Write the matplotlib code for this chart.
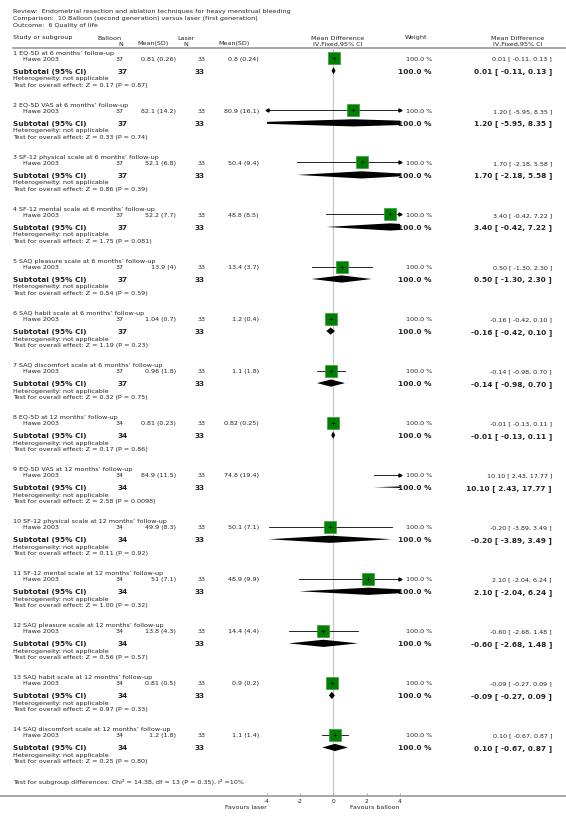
"""RevMan-style forest plot: balloon vs laser, quality of life outcomes."""
import matplotlib
matplotlib.use("Agg")
import matplotlib.pyplot as plt

W, H, DPI = 566, 820, 100
INK, GRID, GREEN = "#222222", "#9a9a9a", "#008000"

TITLE = ["Review:  Endometrial resection and ablation techniques for heavy menstrual bleeding",
         "Comparison:  10 Balloon (second generation) versus laser (first generation)",
         "Outcome:  6 Quality of life"]

OUTCOMES = ["EQ-5D at 6 months\u2019 follow-up",
            "EQ-5D VAS at 6 months\u2019 follow-up",
            "SF-12 physical scale at 6 months\u2019 follow-up",
            "SF-12 mental scale at 6 months\u2019 follow-up",
            "SAQ pleasure scale at 6 months\u2019 follow-up",
            "SAQ habit scale at 6 months\u2019 follow-up",
            "SAQ discomfort scale at 6 months\u2019 follow-up",
            "EQ-5D at 12 months\u2019 follow-up",
            "EQ-5D VAS at 12 months\u2019 follow-up",
            "SF-12 physical scale at 12 months\u2019 follow-up",
            "SF-12 mental scale at 12 months\u2019 follow-up",
            "SAQ pleasure scale at 12 months\u2019 follow-up",
            "SAQ habit scale at 12 months\u2019 follow-up",
            "SAQ discomfort scale at 12 months\u2019 follow-up"]
STUDY = "Hawe 2003"

BAL_N = [37, 37, 37, 37, 37, 37, 37, 34, 34, 34, 34, 34, 34, 34]
BAL_MEAN = [0.81, 82.1, 52.1, 52.2, 13.9, 1.04, 0.96, 0.81, 84.9, 49.9, 51, 13.8, 0.81, 1.2]
BAL_SD = [0.26, 14.2, 6.8, 7.7, 4, 0.7, 1.8, 0.23, 11.5, 8.3, 7.1, 4.3, 0.5, 1.8]
LAS_N = [33, 33, 33, 33, 33, 33, 33, 33, 33, 33, 33, 33, 33, 33]
LAS_MEAN = [0.8, 80.9, 50.4, 48.8, 13.4, 1.2, 1.1, 0.82, 74.8, 50.1, 48.9, 14.4, 0.9, 1.1]
LAS_SD = [0.24, 16.1, 9.4, 8.5, 3.7, 0.4, 1.8, 0.25, 19.4, 7.1, 9.9, 4.4, 0.2, 1.4]

MD = [0.01, 1.20, 1.70, 3.40, 0.50, -0.16, -0.14, -0.01, 10.10, -0.20, 2.10, -0.60, -0.09, 0.10]
CI_LO = [-0.11, -5.95, -2.18, -0.42, -1.30, -0.42, -0.98, -0.13, 2.43, -3.89, -2.04, -2.68, -0.27, -0.67]
CI_HI = [0.13, 8.35, 5.58, 7.22, 2.30, 0.10, 0.70, 0.11, 17.77, 3.49, 6.24, 1.48, 0.09, 0.87]
Z = [0.17, 0.33, 0.86, 1.75, 0.54, 1.19, 0.32, 0.17, 2.58, 0.11, 1.00, 0.56, 0.97, 0.25]
P = ["0.87", "0.74", "0.39", "0.081", "0.59", "0.23", "0.75", "0.86", "0.0098", "0.92",
     "0.32", "0.57", "0.33", "0.80"]
WEIGHT = [100.0] * 14

XTICKS = [-4, -2, 0, 2, 4]
SUBGROUP_TEST = "Test for subgroup differences: Chi\u00b2 = 14.38, df = 13 (P = 0.35), I\u00b2 =10%"

# layout (pixels, y downward)
TOP, BOTTOM = 49, 797
X_LO, X_HI = -4, 4
PX_LO, PX_HI = 266.7, 400.0
ROW0, STEP = 53, 52.05
FS, FSB = 4.6, 5.3


def main():
    plt.rcParams["font.family"] = "DejaVu Sans"
    fig = plt.figure(figsize=(W / DPI, H / DPI), dpi=DPI)
    bg = fig.add_axes([0, 0, 1, 1])
    bg.set_xlim(0, W)
    bg.set_ylim(H, 0)
    bg.axis("off")

    def t(x, y, s, ha="left", bold=False, size=None):
        bg.text(x, y, s, ha=ha, va="center", color=INK,
                fontsize=size or (FSB if bold else FS),
                fontweight="bold" if bold else "normal")

    for i, line in enumerate(TITLE):
        t(13, 11 + 7.5 * i, line)

    # column headers
    t(13, 38, "Study or subgroup")
    t(109, 38, "Balloon", ha="center")
    t(121, 44, "N", ha="center")
    t(153, 44, "Mean(SD)", ha="center")
    t(186, 38, "Laser", ha="center")
    t(186, 44, "N", ha="center")
    t(234, 44, "Mean(SD)", ha="center")
    t(338, 38, "Mean Difference", ha="center")
    t(338, 44, "IV,Fixed,95% CI", ha="center")
    t(416, 38, "Weight", ha="center")
    t(518, 38, "Mean Difference", ha="center")
    t(518, 44, "IV,Fixed,95% CI", ha="center")
    bg.plot([13, W], [TOP, TOP], color=GRID, lw=1.2)
    bg.plot([0, W], [BOTTOM, BOTTOM], color=GRID, lw=1.2)

    # forest panel
    ax = fig.add_axes([PX_LO / W, 1 - BOTTOM / H, (PX_HI - PX_LO) / W, (BOTTOM - TOP) / H])
    ax.set_xlim(X_LO, X_HI)
    ax.set_ylim(BOTTOM, TOP)
    ax.patch.set_alpha(0)
    for s in ax.spines.values():
        s.set_visible(False)
    ax.axvline(0, color="#c8c8c8", lw=0.9, zorder=0)
    ax.set_yticks([])
    ax.set_xticks(XTICKS)
    ax.set_xticklabels([str(v) for v in XTICKS])
    ax.tick_params(axis="x", direction="in", length=2, width=0.6, color=GRID,
                   labelsize=4.2, labelcolor=INK, pad=1.5)

    for i, name in enumerate(OUTCOMES):
        y0 = ROW0 + STEP * i
        ys, yt = y0 + 6.3, y0 + 18.8
        t(13, y0, f"{i + 1} {name}")
        t(23, ys, STUDY)
        t(124, ys, f"{BAL_N[i]}", ha="right")
        t(176, ys, f"{BAL_MEAN[i]:g} ({BAL_SD[i]:g})", ha="right")
        t(206, ys, f"{LAS_N[i]}", ha="right")
        t(259, ys, f"{LAS_MEAN[i]:g} ({LAS_SD[i]:g})", ha="right")
        t(432, ys, f"{WEIGHT[i]:.1f} %", ha="right")
        t(552, ys, f"{MD[i]:.2f} [ {CI_LO[i]:.2f}, {CI_HI[i]:.2f} ]", ha="right")
        t(13, yt, "Subtotal (95% CI)", bold=True)
        t(128, yt, f"{BAL_N[i]}", ha="right", bold=True)
        t(205, yt, f"{LAS_N[i]}", ha="right", bold=True)
        t(432, yt, f"{WEIGHT[i]:.1f} %", ha="right", bold=True)
        t(552, yt, f"{MD[i]:.2f} [ {CI_LO[i]:.2f}, {CI_HI[i]:.2f} ]", ha="right", bold=True)
        t(13, y0 + 25.8, "Heterogeneity: not applicable")
        t(13, y0 + 32.3, f"Test for overall effect: Z = {Z[i]:.2f} (P = {P[i]})")

        # study CI line, clipped with arrowheads
        lo, hi = max(CI_LO[i], X_LO), min(CI_HI[i], X_HI)
        ax.plot([lo, hi], [ys, ys], color="black", lw=0.6, zorder=2)
        if CI_HI[i] > X_HI:
            ax.plot([X_HI], [ys], marker=">", ms=2.2, color="black", clip_on=False, zorder=3)
        if CI_LO[i] < X_LO:
            ax.plot([X_LO], [ys], marker="<", ms=2.2, color="black", clip_on=False, zorder=3)
        ax.plot([MD[i]], [ys], marker="s", ms=9.2, color=GREEN,
                markeredgecolor="#3a9a3a", markeredgewidth=0.5, zorder=3)
        ax.plot([MD[i]], [ys], marker="+", ms=3.5, color="black", mew=0.5, zorder=4)

        # subtotal diamond
        ax.fill([CI_LO[i], MD[i], CI_HI[i], MD[i]], [yt, yt - 3.6, yt, yt + 3.6],
                color="black", lw=0, zorder=3)

    t(13, 782, SUBGROUP_TEST)
    t(266.5, 807.5, "Favours laser", ha="right", size=4.5)
    t(399.5, 807.5, "Favours balloon", ha="right", size=4.5)

    fig.savefig("out.png", dpi=DPI, facecolor="white")


if __name__ == "__main__":
    main()
